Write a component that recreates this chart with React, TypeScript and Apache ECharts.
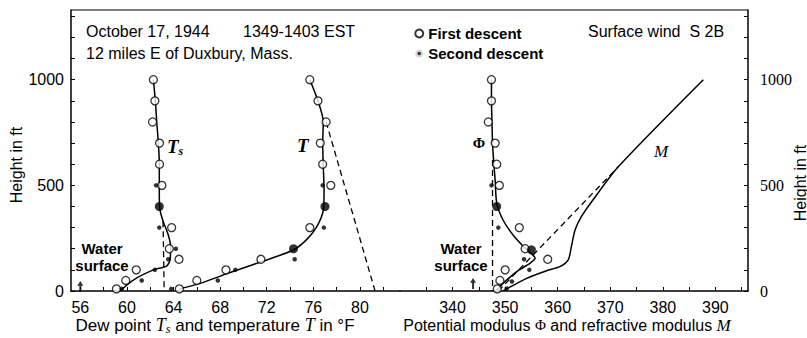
import React, { useEffect, useRef } from "react";
import * as echarts from "echarts";

// ---------- axes ----------
const heightTicks = [0, 100, 200, 300, 400, 500, 600, 700, 800, 900, 1000, 1100, 1200, 1300];
const heightLabels = [0, 500, 1000];
const tempTicks = [56, 58, 60, 62, 64, 66, 68, 70, 72, 74, 76, 78, 80, 82];
const tempLabels = [56, 60, 64, 68, 72, 76, 80];
const modulusTicks = [335, 340, 345, 350, 355, 360, 365, 370, 375, 380, 385, 390, 395];
const modulusLabels = [340, 350, 360, 370, 380, 390];

// ---------- left panel: dew point Ts and temperature T (°F, ft) ----------
const dewPointCurve = [
  [59.4, 0], [60.55, 52], [62.27, 100], [63.4, 118], [63.7, 147], [63.75, 210],
  [63.55, 265], [63.12, 328], [62.84, 384], [62.78, 463], [62.78, 600],
  [62.7, 700], [62.56, 800], [62.44, 900], [62.27, 1000],
];
const dewPointDashed = [[63.1, 330], [63.2, 0]];
const temperatureCurve = [
  [64.5, 10], [66.27, 36], [69.1, 92], [72.0, 147], [74.28, 194], [75.4, 242],
  [76.3, 305], [76.86, 384], [76.92, 479], [76.85, 600], [76.8, 700],
  [76.86, 800], [76.4, 900], [75.7, 1000],
];
const adiabatDashed = [[77.1, 800], [81.3, 0]];
const firstDescentTemp = [
  [62.27, 1000], [62.4, 900], [62.2, 800], [62.8, 700], [62.8, 600], [63.0, 500],
  [63.84, 300], [63.64, 200], [64.47, 150], [60.8, 100], [59.9, 50], [59.1, 10],
  [75.7, 1000], [76.4, 900], [77.1, 800], [76.6, 700], [76.8, 600], [77.5, 500],
  [75.7, 300], [71.5, 150], [68.5, 100], [66.0, 50], [64.5, 10],
];
const secondDescentTemp = [
  [62.5, 500], [62.78, 300], [64.2, 200], [63.55, 150], [62.4, 100], [61.27, 50], [59.55, 10],
  [76.8, 500], [76.9, 300], [74.4, 150], [69.3, 100], [67.8, 50], [63.8, 10],
];
const bothDescentsTemp = [[62.78, 400], [77.0, 400], [74.3, 200]];
const waterSurfaceTemp = [[56.0, 21]];

// ---------- right panel: potential modulus Φ and refractive modulus M ----------
const phiCurve = [
  [348.4, 5], [349.6, 36], [352.2, 92], [354.7, 131], [355.7, 155], [353.8, 202],
  [351.5, 265], [349.6, 336], [348.4, 416], [348.1, 526], [347.8, 620],
  [347.6, 700], [347.5, 800], [347.4, 900], [347.4, 1000],
];
const phiDashed = [[347.6, 620], [347.6, 0]];
const mCurve = [
  [349.6, 0], [354.1, 60], [357.9, 96], [360.4, 115], [362.0, 147], [362.6, 210],
  [363.3, 289], [364.5, 352], [366.7, 431], [371.6, 590], [387.7, 1000],
];
const mDashed = [[348.7, 0], [371.6, 590]];
const firstDescentMod = [
  [347.4, 1000], [347.4, 900], [346.8, 800], [348.1, 700], [348.4, 600], [348.9, 500],
  [352.7, 300], [353.8, 200], [358.1, 150], [350.0, 100], [349.0, 50], [348.5, 10],
];
const secondDescentMod = [
  [347.4, 500], [348.7, 300], [353.6, 150], [354.6, 100], [351.3, 45], [350.3, 12],
];
const bothDescentsMod = [[348.4, 400], [355.0, 195]];
const waterSurfaceMod = [[343.9, 35]];

const SANS = "Liberation Sans, Arial, sans-serif";
const SERIF = "Liberation Serif, Times New Roman, serif";
const ARROW = "path://M3,0 L6,5 L4,5 L4,12 L2,12 L2,5 L0,5 Z";

function lineSeries(data: number[][], idx: number, dashed: boolean, smooth: number) {
  return {
    type: "line",
    xAxisIndex: idx,
    yAxisIndex: idx,
    data,
    symbol: "none",
    smooth,
    silent: true,
    z: 2,
    lineStyle: { color: "#000", width: dashed ? 1.3 : 1.5, type: dashed ? [6, 4] : "solid" },
  };
}

function scatterSeries(name: string, data: number[][], idx: number, kind: string) {
  const style =
    kind === "first"
      ? { symbolSize: 8, itemStyle: { color: "#fff", borderColor: "#000", borderWidth: 1.3 }, z: 4 }
      : kind === "second"
      ? { symbolSize: 4.5, itemStyle: { color: "#000" }, z: 5 }
      : { symbolSize: 9, itemStyle: { color: "#000" }, z: 5 };
  return { type: "scatter", name, data, xAxisIndex: idx, yAxisIndex: idx, symbol: "circle", silent: true, ...style };
}

function arrowSeries(data: number[][], idx: number) {
  return {
    type: "scatter",
    data,
    xAxisIndex: idx,
    yAxisIndex: idx,
    symbol: ARROW,
    symbolSize: [6, 11],
    itemStyle: { color: "#000" },
    silent: true,
    z: 5,
  };
}

const plain = (v: number) => String(v);

function xAxis(idx: number, min: number, max: number, ticks: number[], labels: number[]) {
  return {
    type: "value",
    gridIndex: idx,
    min,
    max,
    axisLine: { show: true, lineStyle: { color: "#000", width: 1.5 } },
    axisTick: { show: true, inside: true, length: 4, customValues: ticks, lineStyle: { color: "#000", width: 1 } },
    axisLabel: { show: true, customValues: labels, formatter: plain, fontSize: 16, color: "#000", margin: 8, fontFamily: SANS },
    splitLine: { show: false },
  };
}

function yAxis(idx: number, position: string, font: string, margin: number) {
  return {
    type: "value",
    gridIndex: idx,
    position,
    min: 0,
    max: 1330,
    axisLine: { show: true, lineStyle: { color: "#000", width: 1.5 } },
    axisTick: { show: true, inside: true, length: 4, customValues: heightTicks, lineStyle: { color: "#000", width: 1 } },
    axisLabel: { show: true, customValues: heightLabels, formatter: plain, fontSize: 16, color: "#000", margin, fontFamily: font },
    splitLine: { show: false },
  };
}

const txt = (x: number, y: number, text: string, extra: any = {}) => ({
  type: "text",
  x,
  y,
  silent: true,
  style: { text, fill: "#000", font: `16px ${SANS}`, verticalAlign: "middle", ...extra },
});

export default function App() {
  const ref = useRef<HTMLDivElement>(null);
  useEffect(() => {
    if (!ref.current) return;
    const chart = echarts.init(ref.current, null, { renderer: "svg" });
    chart.setOption({
      animation: false,
      backgroundColor: "#fff",
      grid: [
        { left: 71, top: 10, width: 329, height: 281, show: false },
        { left: 400, top: 10, width: 348, height: 281, show: false },
      ],
      xAxis: [
        xAxis(0, 55.2, 83.44, tempTicks, tempLabels),
        xAxis(1, 330, 396.2, modulusTicks, modulusLabels),
      ],
      yAxis: [yAxis(0, "left", SANS, 7), yAxis(1, "right", SERIF, 12)],
      legend: {
        left: 408,
        top: 21,
        orient: "vertical",
        itemWidth: 8,
        itemHeight: 8,
        itemGap: 5,
        selectedMode: false,
        textStyle: { fontSize: 15, color: "#000", fontWeight: "bold", fontFamily: SANS },
        data: [
          { name: "First descent", icon: "circle" },
          { name: "Second descent", icon: "circle", itemStyle: { color: "#000", borderColor: "#fff", borderWidth: 4.5 } },
        ],
      },
      series: [
        lineSeries(dewPointCurve, 0, false, 0.25),
        lineSeries(dewPointDashed, 0, true, 0),
        lineSeries(temperatureCurve, 0, false, 0.25),
        lineSeries(adiabatDashed, 0, true, 0),
        scatterSeries("First descent", firstDescentTemp, 0, "first"),
        scatterSeries("Second descent", secondDescentTemp, 0, "second"),
        scatterSeries("Both descents", bothDescentsTemp, 0, "both"),
        arrowSeries(waterSurfaceTemp, 0),
        lineSeries(phiCurve, 1, false, 0.25),
        lineSeries(phiDashed, 1, true, 0),
        lineSeries(mCurve, 1, false, 0.25),
        lineSeries(mDashed, 1, true, 0),
        scatterSeries("First descent", firstDescentMod, 1, "first"),
        scatterSeries("Second descent", secondDescentMod, 1, "second"),
        scatterSeries("Both descents", bothDescentsMod, 1, "both"),
        arrowSeries(waterSurfaceMod, 1),
      ],
      graphic: [
        { type: "line", silent: true, shape: { x1: 71, y1: 10, x2: 748, y2: 10 }, style: { stroke: "#000", lineWidth: 1.2 } },
        txt(86, 31, "October 17, 1944"),
        txt(243, 31, "1349-1403 EST"),
        txt(86, 53, "12 miles E of Duxbury, Mass."),
        txt(588, 31, "Surface wind  S 2B"),
        txt(102, 248, "Water", { font: `bold 15px ${SANS}`, align: "center" }),
        txt(102, 265, "surface", { font: `bold 15px ${SANS}`, align: "center" }),
        txt(461, 248, "Water", { font: `bold 15px ${SANS}`, align: "center" }),
        txt(461, 265, "surface", { font: `bold 15px ${SANS}`, align: "center" }),
        {
          type: "text",
          x: 167,
          y: 146,
          silent: true,
          style: {
            text: "{t|T}{s|s}",
            verticalAlign: "middle",
            rich: {
              t: { fontFamily: SERIF, fontStyle: "italic", fontWeight: "bold", fontSize: 19, fill: "#000" },
              s: { fontFamily: SERIF, fontStyle: "italic", fontWeight: "bold", fontSize: 12, fill: "#000", padding: [9, 0, 0, 0] },
            },
          },
        },
        txt(297, 145, "T", { font: `italic bold 19px ${SERIF}` }),
        txt(479, 143, "Φ", { font: `bold 15px ${SERIF}`, align: "center" }),
        txt(654, 151, "M", { font: `italic 17px ${SERIF}` }),
        {
          type: "text",
          x: 215,
          y: 325,
          silent: true,
          style: {
            text: "{n|Dew point }{i|T}{s|s}{n| and temperature }{i|T}{n| in °F}",
            align: "center",
            verticalAlign: "middle",
            rich: {
              n: { fontFamily: SANS, fontSize: 17, fill: "#000" },
              i: { fontFamily: SERIF, fontStyle: "italic", fontSize: 18, fill: "#000" },
              s: { fontFamily: SERIF, fontStyle: "italic", fontSize: 12, fill: "#000", padding: [8, 0, 0, 0] },
            },
          },
        },
        {
          type: "text",
          x: 567,
          y: 325,
          silent: true,
          style: {
            text: "{n|Potential modulus }{p|Φ}{n| and refractive modulus }{i|M}",
            align: "center",
            verticalAlign: "middle",
            rich: {
              n: { fontFamily: SANS, fontSize: 16, fill: "#000" },
              p: { fontFamily: SERIF, fontSize: 15, fill: "#000" },
              i: { fontFamily: SERIF, fontStyle: "italic", fontSize: 17, fill: "#000" },
            },
          },
        },
        {
          type: "text",
          x: 16,
          y: 165,
          rotation: Math.PI / 2,
          silent: true,
          style: { text: "Height in ft", font: `16px ${SANS}`, fill: "#000", align: "center", verticalAlign: "middle" },
        },
        {
          type: "text",
          x: 800,
          y: 183,
          rotation: Math.PI / 2,
          silent: true,
          style: { text: "Height in ft", font: `16px ${SANS}`, fill: "#000", align: "center", verticalAlign: "middle" },
        },
      ],
    });
    return () => chart.dispose();
  }, []);
  return (
    <div
      ref={ref}
      style={{ position: "fixed", left: 0, top: 0, width: 807, height: 338, background: "#fff" }}
    />
  );
}
